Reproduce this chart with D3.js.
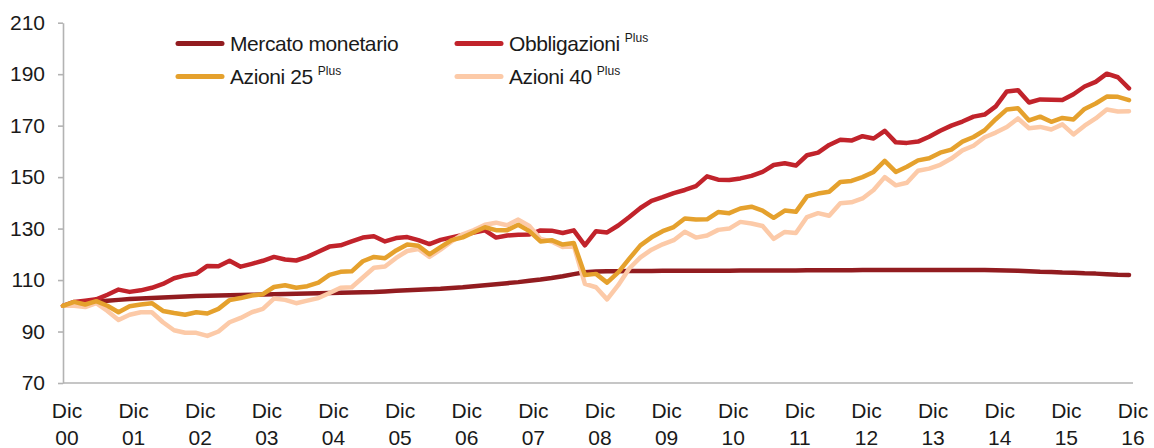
<!DOCTYPE html>
<html lang="it">
<head>
<meta charset="utf-8">
<title>Andamento linee</title>
<style>
  body { margin: 0; background: #fff; }
  svg text { font-family: "Liberation Sans", Arial, sans-serif; fill: #1a1a1a; }
  .axis path, .axis line { stroke: #b3b3b3; stroke-width: 1.6px; }
  .axis text { font-size: 21px; }
  .legend text { font-size: 21px; letter-spacing: -0.4px; }
  .legend .sup { font-size: 12px; letter-spacing: 0; }
  .serie { fill: none; stroke-width: 4.5px; stroke-linejoin: round; stroke-linecap: round; }
</style>
</head>
<body>
<svg id="chart" width="1154" height="448"></svg>
<script src="https://cdn.jsdelivr.net/npm/d3@7"></script>
<script>
// valori ogni 2 mesi, da Dic 00 (mese 0) a Dic 16 (mese 192)
var step = 2;
var anni = ["00","01","02","03","04","05","06","07","08","09","10","11","12","13","14","15","16"];
var yTicks = [70, 90, 110, 130, 150, 170, 190, 210];

var mercato = [100,100.6,101.2,101.7,102,102.3,102.6,102.8,103,103.2,103.4,103.6,103.8,103.9,104,104.1,104.2,104.3,104.4,
  104.5,104.6,104.7,104.8,104.9,105,105.1,105.2,105.3,105.4,105.6,105.8,106,106.2,106.4,106.6,106.9,107.2,107.6,108,
  108.4,108.8,109.2,109.7,110.2,110.8,111.5,112.3,113,113.3,113.4,113.4,113.5,113.5,113.5,113.6,113.6,113.6,113.6,113.6,
  113.6,113.6,113.7,113.7,113.7,113.7,113.7,113.7,113.8,113.8,113.8,113.8,113.8,113.9,113.9,113.9,113.9,113.9,113.9,
  113.9,113.9,113.9,113.9,113.9,113.9,113.8,113.7,113.6,113.4,113.2,113.1,112.9,112.8,112.6,112.5,112.3,112.1,112];

var obbligazioni = [100,101.5,102,102.5,104.3,106.3,105.4,106,107,108.5,110.7,111.8,112.5,115.5,115.4,117.5,115.2,116.3,117.5,
  119,118,117.6,119,121,123,123.5,125,126.5,127,125,126.3,126.7,125.5,124,125.6,126.6,127.5,128.5,129.3,126.5,127.3,
  127.6,127.7,129.3,129.2,128.3,129.3,123.5,129,128.5,131.2,134.5,138,140.8,142.2,143.8,145,146.5,150.3,149,148.9,149.5,
  150.5,152,154.7,155.4,154.5,158.5,159.5,162.5,164.5,164.2,165.9,165,168,163.5,163.3,163.8,165.7,168,170,171.6,173.5,
  174.3,177.5,183.3,183.8,179,180.2,180.1,180,182.2,185.2,187,190.2,188.8,184.5];

var azioni25 = [100,101.5,100.5,101.8,100,97.5,99.8,100.5,101,98,97.2,96.5,97.5,97,98.8,102.2,103,104,104.5,107.3,108,107,
  107.6,109,112,113.2,113.4,117.3,119,118.5,121.5,123.8,123.3,120,122.8,125.5,126.6,128.6,130.5,129.4,129.4,131.5,129,
  125,125.5,123.8,124.4,112,112.4,109,113,118.3,123.5,126.6,129,130.6,133.9,133.5,133.6,136.4,136,137.8,138.5,137,134.2,
  137,136.5,142.5,143.6,144.3,148.1,148.5,150,152,156.3,152,154,156.5,157.3,159.5,160.7,163.8,165.6,168.2,172.5,176.3,
  176.8,172,173.5,171.5,173,172.4,176.5,178.6,181.3,181.2,179.9];

var azioni40 = [100,100,99.5,101,98,94.5,96.5,97.5,97.5,93.6,90.5,89.5,89.5,88.3,90,93.6,95.3,97.5,98.8,102.8,102.3,101,102,
  103,105,107,107.2,111,114.8,115.3,118.6,121.3,122.1,119,121.8,125,127.8,129.4,131.5,132.3,131.3,133.5,131,126,125,
  122.8,123.4,108.5,107.2,102.5,108,114.5,118.8,121.8,123.9,125.5,128.8,126.5,127.3,129.5,130,132.6,132,131,126,128.7,
  128.3,134.5,136,135,139.8,140.2,141.7,145,150,146.8,147.8,152.5,153.3,154.8,157.2,160.4,162.2,165.5,167.3,169.5,172.8,
  169,169.5,168.5,170.5,166.6,170,172.8,176.3,175.5,175.6];

var serie = [
  { nome: "Mercato monetario", sup: "", valori: mercato, colore: "#921c20", col: 0, riga: 0 },
  { nome: "Obbligazioni", sup: "Plus", valori: obbligazioni, colore: "#c1232b", col: 1, riga: 0 },
  { nome: "Azioni 40", sup: "Plus", valori: azioni40, colore: "#fccaa8", col: 1, riga: 1 },
  { nome: "Azioni 25", sup: "Plus", valori: azioni25, colore: "#e5a12d", col: 0, riga: 1 }
];

var svg = d3.select("#chart");

var x = d3.scaleLinear().domain([0, 192]).range([63, 1129]);
var y = d3.scaleLinear().domain([70, 210]).range([383, 22.7]);

// assi
var yAxis = d3.axisLeft(y).tickValues(yTicks).tickSize(5).tickSizeOuter(0).tickPadding(13);
svg.append("g").attr("class", "axis")
    .attr("transform", "translate(63,0)")
    .call(yAxis);

svg.append("g").attr("class", "axis")
  .append("line")
    .attr("x1", 63).attr("x2", 1133)
    .attr("y1", y(70)).attr("y2", y(70));

var xLab = svg.append("g").attr("class", "axis")
  .selectAll("text")
  .data(anni)
  .enter().append("text")
    .attr("text-anchor", "middle")
    .attr("x", function(d, i) { return x(i * 12) + 4; });
xLab.append("tspan").attr("y", 418).attr("x", function(d, i) { return x(i * 12) + 4; }).text("Dic");
xLab.append("tspan").attr("y", 445).attr("x", function(d, i) { return x(i * 12) + 4; }).text(function(d) { return d; });

// linee
var line = d3.line()
    .x(function(d, i) { return x(i * step); })
    .y(function(d) { return y(d); });

svg.append("g").selectAll("path")
  .data(serie)
  .enter().append("path")
    .attr("class", "serie")
    .attr("stroke", function(d) { return d.colore; })
    .attr("d", function(d) { return line(d.valori); });

// legenda
var legX = [178, 457], legY = [43.5, 76.5];
var leg = svg.append("g").attr("class", "legend")
  .selectAll("g")
  .data(serie)
  .enter().append("g")
    .attr("transform", function(d) { return "translate(" + legX[d.col] + "," + legY[d.riga] + ")"; });

leg.append("line")
    .attr("x1", 0).attr("x2", 44)
    .attr("stroke", function(d) { return d.colore; })
    .attr("stroke-width", 5)
    .attr("stroke-linecap", "round");

var t = leg.append("text")
    .attr("x", 52).attr("y", 7.5);
t.append("tspan").text(function(d) { return d.nome; });
t.append("tspan")
    .attr("class", "sup")
    .attr("dx", 5).attr("dy", -9)
    .text(function(d) { return d.sup; });
</script>
</body>
</html>
